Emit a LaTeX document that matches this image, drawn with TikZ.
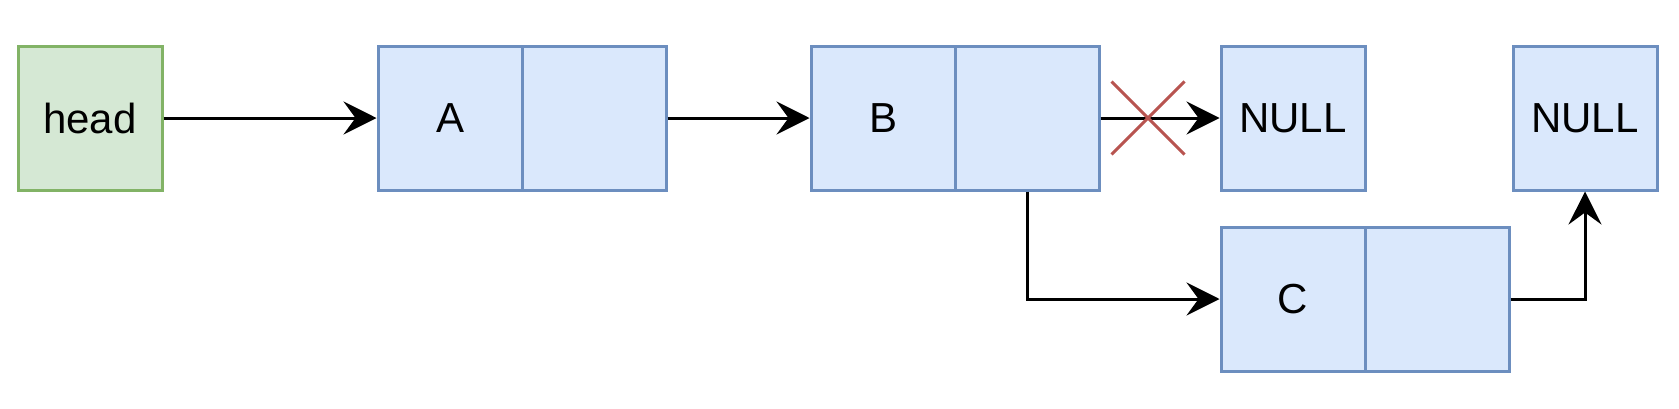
\documentclass[tikz,border=0pt]{standalone}
\usepackage{fontspec}
\setmainfont{Liberation Sans}
\usetikzlibrary{arrows.meta,shapes.misc}
\definecolor{bluefill}{HTML}{DAE8FC}
\definecolor{bluedraw}{HTML}{6C8EBF}
\definecolor{greenfill}{HTML}{D5E8D4}
\definecolor{greendraw}{HTML}{82B366}
\definecolor{reddraw}{HTML}{B85450}
\tikzset{
  cell/.style={rectangle, draw=bluedraw, fill=bluefill, line width=1.5pt,
    minimum width=72pt, minimum height=72pt, inner sep=0pt,
    font=\fontsize{21}{25}\selectfont},
  headbox/.style={cell, draw=greendraw, fill=greenfill},
  arr/.style={draw=black, line width=1.5pt,
    -{Stealth[length=16.5pt, width=16.5pt, inset=6pt]}},
  crossmark/.style={cross out, draw=reddraw, line width=1.5pt,
    minimum size=35pt, inner sep=0pt}
}
\begin{document}
\begin{tikzpicture}[x=0.5pt, y=-0.5pt]
\useasboundingbox (0,0) rectangle (1679,408);
\node[headbox] (head) at (90,118) {head};
\node[cell] (a1) at (450,118) {A};
\node[cell] (a2) at (594,118) {};
\node[cell] (b1) at (883,118) {B};
\node[cell] (b2) at (1027,118) {};
\node[cell] (n1) at (1293,118) {NULL};
\node[cell] (n2) at (1585,118) {NULL};
\node[cell] (c1) at (1293,299) {C};
\node[cell] (c2) at (1437,299) {};
\draw[arr] (head) -- (a1);
\draw[arr] (a2) -- (b1);
\draw[arr] (b2) -- (n1);
\draw[arr] (b2.south) |- (c1.west);
\draw[arr] (c2.east) -| (n2.south);
\node[crossmark] (x) at (1148,118) {};
\end{tikzpicture}
\end{document}
